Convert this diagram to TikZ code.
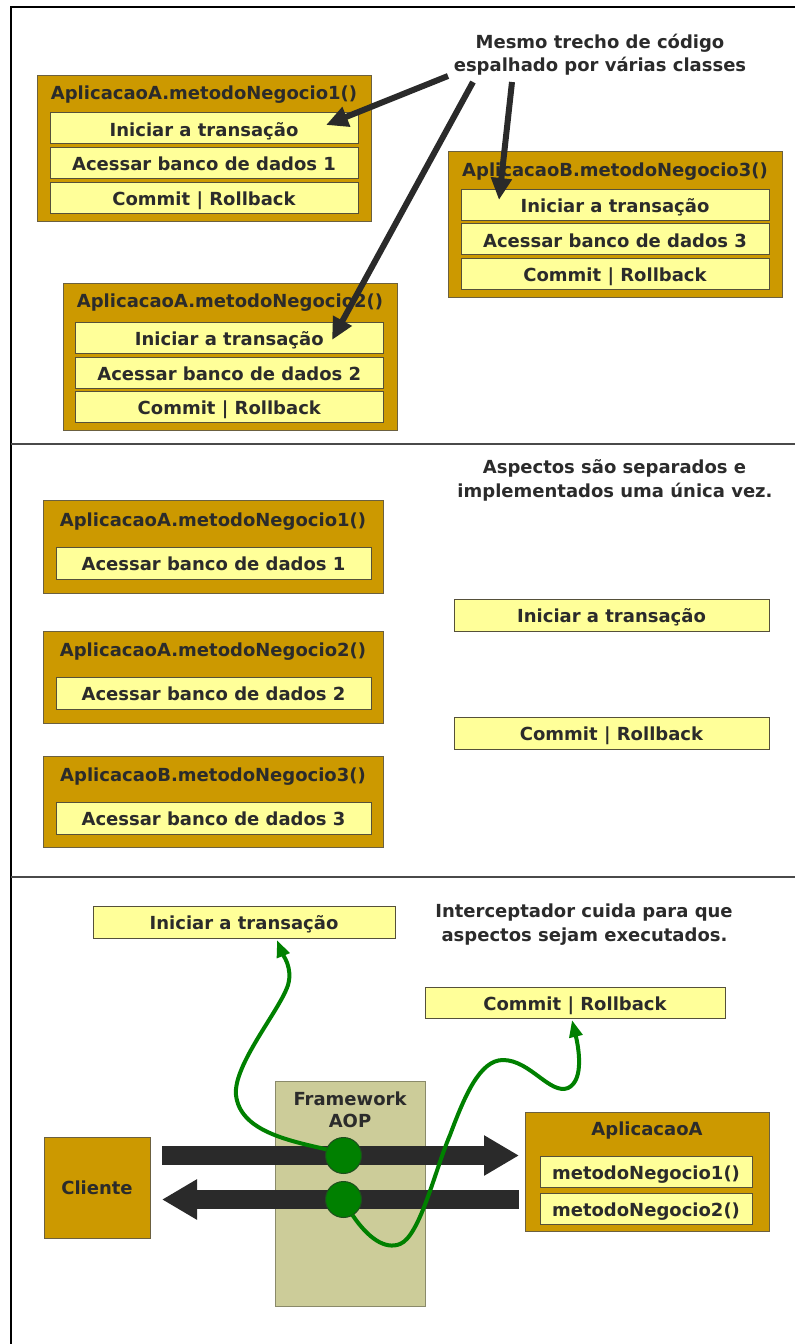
\documentclass[tikz,border=0pt]{standalone}
\usepackage{fontspec}
\setmainfont{DejaVu Sans}
\usetikzlibrary{arrows.meta}
\definecolor{gold}{HTML}{CC9900}
\definecolor{goldedge}{HTML}{6B6040}
\definecolor{paleyellow}{HTML}{FFFF99}
\definecolor{rowedge}{HTML}{55503A}
\definecolor{ink}{HTML}{2B2B2B}
\definecolor{darkarrow}{HTML}{2A2A2A}
\definecolor{khaki}{HTML}{CCCC99}
\definecolor{khakiedge}{HTML}{8A8A6A}
\definecolor{aopgreen}{HTML}{008000}
\definecolor{circedge}{HTML}{1E4E1E}
\definecolor{sepgray}{HTML}{4A4A4A}
\begin{document}
\begin{tikzpicture}[x=1pt,y=-1pt,
  every node/.style={inner sep=0pt,outer sep=0pt},
  txt/.style={font=\bfseries\fontsize{18}{22}\selectfont,text=ink},
  goldbox/.style={draw=goldedge,fill=gold,line width=1pt},
  rowbox/.style={draw=rowedge,fill=paleyellow,line width=1pt,txt,text height=15.5pt,text depth=0pt},
  pointer/.style={draw=darkarrow,line width=6pt,-{Triangle[length=22pt,width=20pt]}},
  fatarrow/.style={draw=darkarrow,line width=19pt,-{Triangle[length=35pt,width=38pt]}},
  gcurve/.style={draw=aopgreen,line width=4pt,-{Triangle[length=17pt,width=13pt]}},
  gdot/.style={circle,draw=circedge,line width=1pt,fill=aopgreen,minimum size=36pt}
]
\useasboundingbox (0,0) rectangle (795,1344);
% frame
\draw[black,line width=1.5pt] (11,1344) -- (11,7) -- (795,7);
\draw[sepgray,line width=1.5pt] (11,444) -- (795,444);
\draw[sepgray,line width=1.5pt] (11,877) -- (795,877);

% ---------- section 1 ----------
\node[goldbox,minimum width=334pt,minimum height=146pt] (a1) at (204,148) {};
\node[txt,anchor=base] (a1t) at (204,99.3) {AplicacaoA.metodoNegocio1()};
\node[rowbox,minimum width=308pt,minimum height=31pt] (a1r1) at (204,128.4) {Iniciar a transação};
\node[rowbox,minimum width=308pt,minimum height=31pt] (a1r2) at (204,163.2) {Acessar banco de dados 1};
\node[rowbox,minimum width=308pt,minimum height=31pt] (a1r3) at (204,197.7) {Commit | Rollback};

\node[goldbox,minimum width=334pt,minimum height=146pt] (b3) at (615,224) {};
\node[txt,anchor=base] (b3t) at (615,176.5) {AplicacaoB.metodoNegocio3()};
\node[rowbox,minimum width=308pt,minimum height=31pt] (b3r1) at (615,204.7) {Iniciar a transação};
\node[rowbox,minimum width=308pt,minimum height=31pt] (b3r2) at (615,239.3) {Acessar banco de dados 3};
\node[rowbox,minimum width=308pt,minimum height=31pt] (b3r3) at (615,273.7) {Commit | Rollback};

\node[goldbox,minimum width=334pt,minimum height=147pt] (a2) at (230,356.7) {};
\node[txt,anchor=base] (a2t) at (230,307.3) {AplicacaoA.metodoNegocio2()};
\node[rowbox,minimum width=308pt,minimum height=31pt] (a2r1) at (229.3,337.9) {Iniciar a transação};
\node[rowbox,minimum width=308pt,minimum height=31pt] (a2r2) at (229.3,372.5) {Acessar banco de dados 2};
\node[rowbox,minimum width=308pt,minimum height=31pt] (a2r3) at (229.3,407) {Commit | Rollback};

\node[txt,anchor=base] (lab1a) at (600,48.3) {Mesmo trecho de código};
\node[txt,anchor=base] (lab1b) at (600,71.7) {espalhado por várias classes};

\coordinate (s1) at (448,76);
\coordinate (e1) at (326,125);
\coordinate (s2) at (473,82);
\coordinate (e2) at (332,340);
\coordinate (s3) at (512,82);
\coordinate (e3) at (499,200);
\draw[pointer] (s1) -- (e1);
\draw[pointer] (s2) -- (e2);
\draw[pointer] (s3) -- (e3);

% ---------- section 2 ----------
\node[txt,anchor=base] (lab2a) at (614.5,473.3) {Aspectos são separados e};
\node[txt,anchor=base] (lab2b) at (615,497.7) {implementados uma única vez.};

\node[goldbox,minimum width=340pt,minimum height=93pt] (c1) at (213,546.8) {};
\node[txt,anchor=base] (c1t) at (213,526.7) {AplicacaoA.metodoNegocio1()};
\node[rowbox,minimum width=315pt,minimum height=32pt] (c1r) at (213.5,563) {Acessar banco de dados 1};

\node[goldbox,minimum width=340pt,minimum height=92pt] (c2) at (213,677) {};
\node[txt,anchor=base] (c2t) at (213,656.5) {AplicacaoA.metodoNegocio2()};
\node[rowbox,minimum width=315pt,minimum height=32pt] (c2r) at (213.5,693) {Acessar banco de dados 2};

\node[goldbox,minimum width=340pt,minimum height=91pt] (c3) at (213,801.5) {};
\node[txt,anchor=base] (c3t) at (213,781.5) {AplicacaoB.metodoNegocio3()};
\node[rowbox,minimum width=315pt,minimum height=32pt] (c3r) at (213.5,818) {Acessar banco de dados 3};

\node[rowbox,minimum width=315pt,minimum height=32pt] (cin) at (611.5,615) {Iniciar a transação};
\node[rowbox,minimum width=315pt,minimum height=32pt] (ccm) at (611.5,733) {Commit | Rollback};

% ---------- section 3 ----------
\node[txt,anchor=base] (lab3a) at (584,917.3) {Interceptador cuida para que};
\node[txt,anchor=base] (lab3b) at (584.5,941) {aspectos sejam executados.};

\node[rowbox,minimum width=302pt,minimum height=32pt] (din) at (244,922) {Iniciar a transação};
\node[rowbox,minimum width=300pt,minimum height=31pt] (dcm) at (575,1003) {Commit | Rollback};

\node[draw=khakiedge,fill=khaki,line width=1pt,minimum width=150pt,minimum height=225pt] (fw) at (350,1193.5) {};
\node[txt,anchor=base] (fwa) at (350,1105) {Framework};
\node[txt,anchor=base] (fwb) at (350,1127.3) {AOP};

\node[goldbox,minimum width=106pt,minimum height=101pt] (cli) at (97,1187.5) {};
\node[txt,anchor=base] (clit) at (97,1194) {Cliente};

\node[goldbox,minimum width=244pt,minimum height=119pt] (app) at (647,1171.5) {};
\node[txt,anchor=base] (appt) at (647,1135.7) {AplicacaoA};
\node[rowbox,minimum width=212pt,minimum height=31pt] (appr1) at (646,1171.5) {metodoNegocio1()};
\node[rowbox,minimum width=212pt,minimum height=31pt] (appr2) at (646,1208.8) {metodoNegocio2()};

\coordinate (ra1) at (162,1155.5);
\coordinate (ra2) at (519,1155.5);
\coordinate (la1) at (519,1199.5);
\coordinate (la2) at (162,1199.5);
\draw[fatarrow] (ra1) -- (ra2);
\draw[fatarrow] (la1) -- (la2);

\node[gdot] (g1) at (343.5,1155.5) {};
\node[gdot] (g2) at (343.5,1199.5) {};

\coordinate (t1) at (277,940);
\coordinate (t2) at (572,1020);
\draw[gcurve] (g1.160) .. controls (285,1140) and (240,1130) .. (236,1095)
  .. controls (233,1065) and (280,1010) .. (288,985)
  .. controls (293,968) and (283,955) .. (t1);
\draw[gcurve] (g2.-60) .. controls (368,1238) and (385,1250) .. (400,1244)
  .. controls (420,1236) and (435,1170) .. (450,1135)
  .. controls (465,1095) and (480,1060) .. (503,1060)
  .. controls (530,1060) and (550,1095) .. (568,1088)
  .. controls (585,1080) and (578,1045) .. (t2);
\end{tikzpicture}
\end{document}
